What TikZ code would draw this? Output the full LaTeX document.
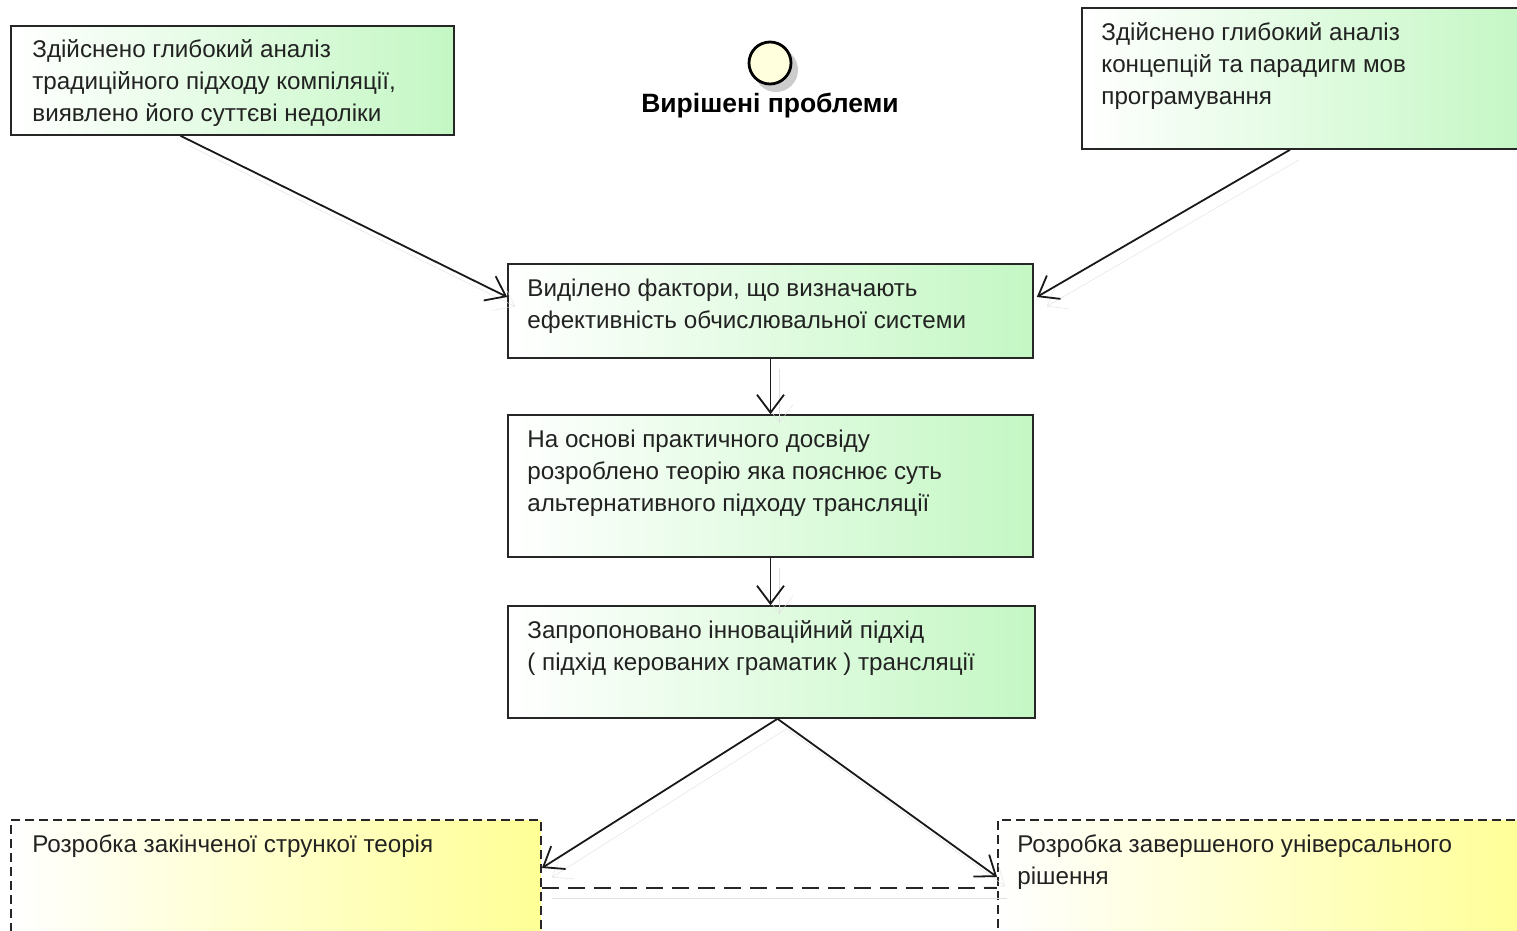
\documentclass[tikz,border=0pt]{standalone}
\usepackage{fontspec}
\setmainfont{Liberation Sans}
\usepackage{tikz}
\usetikzlibrary{arrows.meta, positioning, fit, calc}
\usepackage{xcolor}
\definecolor{boxgreen}{RGB}{196,247,196}
\definecolor{boxyellow}{RGB}{255,255,150}
\definecolor{startfill}{RGB}{255,255,222}
\definecolor{inkgray}{RGB}{34,34,34}

\begin{document}
\begin{tikzpicture}[
  x=1pt, y=-1pt,
  font=\fontsize{24.2}{32}\selectfont, text=inkgray,
  >={Straight Barb[length=18pt, width=27pt, line width=1.8pt]},
  box/.style={rectangle, inner sep=0pt, draw=black!85, line width=1.6pt},
  done/.style={box, left color=white, right color=boxgreen},
  todo/.style={box, left color=white, right color=boxyellow,
               draw=black!85, line width=1.8pt, dash pattern=on 9pt off 5pt},
  txt/.style={anchor=north west, inner sep=0pt, align=left},
  flow/.style={->, line width=1.8pt, draw=black!90,
               preaction={draw=black!12, transform canvas={shift={(9pt,-10pt)}}}},
]
\clip (0,0) rectangle (1517,930);
\fill[white] (0,0) rectangle (1517,930);

% starting point
\fill[black!20] (776,70) circle (22);
\node[circle, minimum size=42pt, inner sep=0pt, fill=startfill, draw=black,
      line width=2.8pt] (start) at (770,63) {};
\node[font=\fontsize{26.5}{32}\selectfont\bfseries, text=black, below=4pt of start] (solved) {Вирішені проблеми};

% green boxes
\node[done, fit={(11,26) (454,135)}]    (compile)  {};
\node[done, fit={(1082,8) (1530,149)}]  (paradigm) {};
\node[done, fit={(508,264) (1033,358)}] (factors)  {};
\node[done, fit={(508,415) (1033,557)}] (theory)   {};
\node[done, fit={(508,606) (1035,718)}] (innov)    {};

% yellow boxes
\node[todo, fit={(11,820) (541,945)}]   (slim)     {};
\node[todo, fit={(998,820) (1530,945)}] (univ)     {};

\node[txt] (compiletxt)  at ([shift={(22pt,-10pt)}]compile.north west)
  {\strut Здійснено глибокий аналіз\\традиційного підходу компіляції,\\виявлено його суттєві недоліки};
\node[txt] (paradigmtxt) at ([shift={(20pt,-11pt)}]paradigm.north west)
  {\strut Здійснено глибокий аналіз\\концепцій та парадигм мов\\програмування};
\node[txt] (factorstxt)  at ([shift={(20pt,-11pt)}]factors.north west)
  {\strut Виділено фактори, що визначають\\ефективність обчислювальної системи};
\node[txt] (theorytxt)   at ([shift={(20pt,-11pt)}]theory.north west)
  {\strut На основі практичного досвіду\\розроблено теорію яка пояснює суть\\альтернативного підходу трансляції};
\node[txt] (innovtxt)    at ([shift={(20pt,-11pt)}]innov.north west)
  {\strut Запропоновано інноваційний підхід\\( підхід керованих граматик ) трансляції};
\node[txt] (slimtxt)     at ([shift={(22pt,-11pt)}]slim.north west)
  {\strut Розробка закінченої стрункої теорія};
\node[txt] (univtxt)     at ([shift={(20pt,-11pt)}]univ.north west)
  {\strut Розробка завершеного універсального\\рішення};

% connectors
\draw[flow] ([xshift=-52pt]compile.south) -- ([yshift=14pt]factors.west);
\draw[flow] ([xshift=-16pt]paradigm.south) -- ([xshift=3pt, yshift=14pt]factors.east);
\draw[flow] (factors.south) -- (theory.north);
\draw[flow] (theory.south) -- (theory.south |- innov.north);
\draw[flow] ([xshift=6pt]innov.south) -- ([yshift=14.5pt]slim.east);
\draw[flow] ([xshift=6pt]innov.south) -- ([yshift=5.5pt]univ.west);
\draw[line width=1.8pt, draw=black!85, dash pattern=on 17pt off 9pt,
      preaction={draw=black!12, solid, transform canvas={shift={(10pt,-10pt)}}}]
  ([yshift=-5.5pt]slim.east) -- ([yshift=-5.5pt]univ.west);
\end{tikzpicture}
\end{document}
